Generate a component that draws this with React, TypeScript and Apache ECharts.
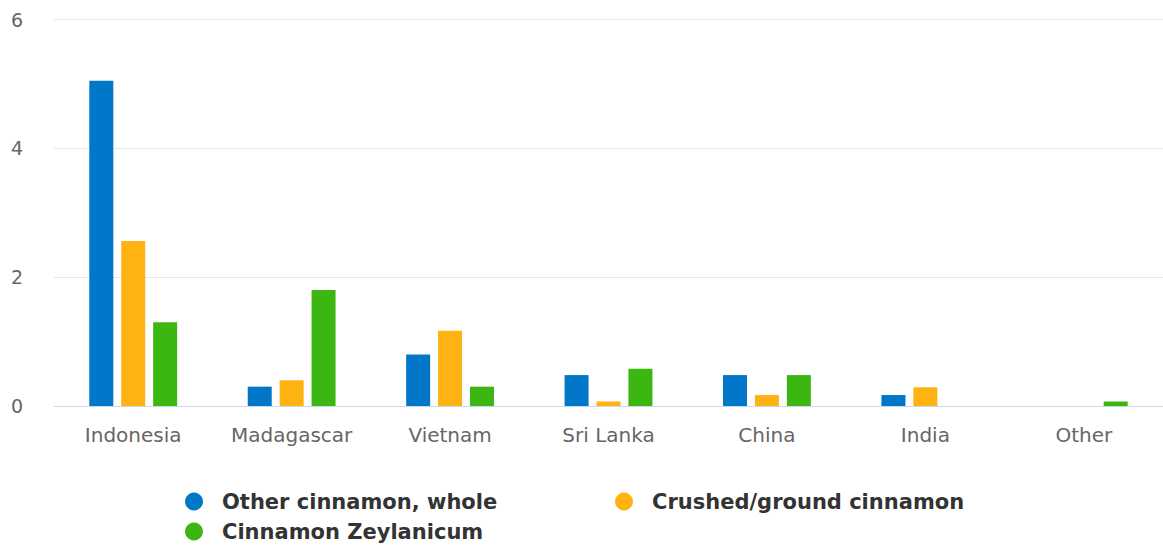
import React, { useEffect, useRef } from "react";
import * as echarts from "echarts";

const categories = ["Indonesia", "Madagascar", "Vietnam", "Sri Lanka", "China", "India", "Other"];
const seriesNames = ["Other cinnamon, whole", "Crushed/ground cinnamon", "Cinnamon Zeylanicum"];
const wholeValues = [5.05, 0.3, 0.8, 0.48, 0.48, 0.17, 0];
const crushedValues = [2.56, 0.4, 1.17, 0.07, 0.17, 0.29, 0];
const zeylanicumValues = [1.3, 1.8, 0.3, 0.58, 0.48, 0, 0.07];
const colors = ["#0077c8", "#ffb313", "#3cb711"];
const yTicks = [0, 2, 4, 6];

export default function App() {
  const ref = useRef<HTMLDivElement>(null);
  useEffect(() => {
    document.body.style.margin = "0";
    const chart = echarts.init(ref.current!, null, { renderer: "svg" });
    const legendBase = {
      icon: "circle",
      itemWidth: 18,
      itemHeight: 18,
      textStyle: {
        fontFamily: "DejaVu Sans",
        fontWeight: "bold",
        fontSize: 21,
        color: "#333",
        padding: [0, 0, 0, 14],
      },
    };
    chart.setOption({
      animation: false,
      color: colors,
      grid: { left: 54, right: 0, top: 19.5, bottom: 139 },
      legend: [
        { ...legendBase, data: [seriesNames[0]], left: 180, top: 486 },
        { ...legendBase, data: [seriesNames[1]], left: 610, top: 486 },
        { ...legendBase, data: [seriesNames[2]], left: 180, top: 516 },
      ],
      xAxis: {
        type: "category",
        data: categories,
        axisLine: { lineStyle: { color: "#ccd6eb" } },
        axisTick: { show: false },
        axisLabel: { color: "#666", fontFamily: "DejaVu Sans", fontSize: 20, margin: 19 },
      },
      yAxis: {
        type: "value",
        min: yTicks[0],
        max: yTicks[yTicks.length - 1],
        interval: 2,
        splitLine: { lineStyle: { color: "#e6e6e6" } },
        axisLabel: { color: "#666", fontFamily: "DejaVu Sans", fontSize: 19, align: "left", margin: 43 },
      },
      series: [wholeValues, crushedValues, zeylanicumValues].map((d, i) => ({
        type: "bar",
        name: seriesNames[i],
        data: d,
        barWidth: 24,
        barGap: "33%",
      })),
    });
    return () => chart.dispose();
  }, []);
  return <div ref={ref} style={{ width: 1163, height: 545 }} />;
}
